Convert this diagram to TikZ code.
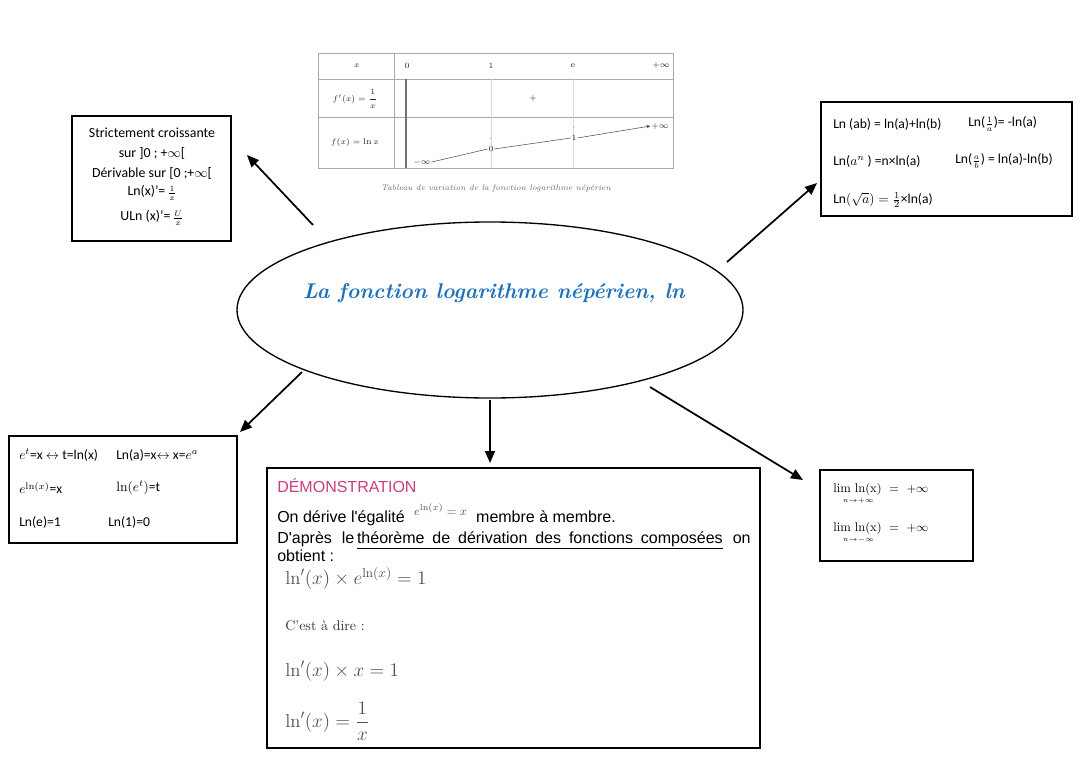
\documentclass[tikz,border=0pt]{standalone}
\usepackage{amsmath}
\usepackage{fontspec}
\usetikzlibrary{shapes.geometric,arrows.meta}
\newfontfamily\carlito{Carlito}
\newfontfamily\arialf{Liberation Sans}
\definecolor{titleblue}{RGB}{30,112,185}
\definecolor{demopink}{RGB}{205,60,130}
\definecolor{mathgray}{RGB}{80,80,80}
\definecolor{tabgray}{RGB}{170,170,170}
\newcommand{\smfrac}[2]{{\fontsize{8}{9}\selectfont$\frac{#1}{#2}$}}
\newcommand{\limsub}[1]{$\mathrm{lim}$\rlap{\hspace*{-6pt}\raisebox{-8pt}{\fontsize{7}{8}\selectfont$\scriptstyle #1$}}}
\begin{document}
\begin{tikzpicture}[x=0.75pt,y=-0.75pt,
  box/.style={draw=black,line width=1.3pt,fill=white,inner sep=0pt},
  conn/.style={line width=1.3pt,-{Triangle[length=9pt,width=7.5pt]}},
  cal/.style={font=\carlito\fontsize{10.4}{12}\selectfont,inner sep=0pt},
  calsm/.style={font=\carlito\fontsize{10.2}{12}\selectfont,inner sep=0pt},
  demo/.style={font=\arialf\fontsize{12}{14}\selectfont,inner sep=0pt},
  dmath/.style={font=\fontsize{14}{16}\selectfont,text=mathgray,inner sep=0pt},
  tab/.style={font=\fontsize{6.3}{7}\selectfont,inner sep=0.5pt,text=black!85},
  limtxt/.style={font=\fontsize{9.5}{11}\selectfont,inner sep=0pt,anchor=base west},
  tabline/.style={draw=tabgray,line width=0.5pt}]
\useasboundingbox (0,0) rectangle (1080,763);

% ---------- table of variation ----------
\draw[tabline] (318,53) rectangle (673,168);
\draw[tabline] (318,79) -- (673,79);
\draw[tabline] (318,117) -- (673,117);
\draw[tabline] (394,53) -- (394,168);
\draw[black!55,line width=1.4pt] (406,79) -- (406,168);
\draw[black!15,line width=0.3pt] (491,79) -- (491,168);
\draw[black!15,line width=0.3pt] (573,79) -- (573,168);
\node[tab] (hx) at (357,66) {$x$};
\node[tab] (h0) at (407,66) {$0$};
\node[tab] (h1) at (491,66) {$1$};
\node[tab] (he) at (573,66) {$\mathrm{e}$};
\node[tab] (hinf) at (661,66) {$+\infty$};
\node[tab] (fp) at (355,99) {$f'(x)=\dfrac{1}{x}$};
\node[tab] (plus) at (533,99) {$+$};
\node[tab] (fx) at (355,142) {$f(x)=\ln x$};
\node[tab] (minf) at (422,162) {$-\infty$};
\node[tab] (zero) at (491,149) {$0$};
\node[tab] (one) at (574,138) {$1$};
\node[tab] (pinf) at (660,126) {$+\infty$};
\node[tab,font=\fontsize{4}{4}\selectfont] (d0) at (491,139) {$\cdot$};
\node[tab,font=\fontsize{4}{4}\selectfont] (d1) at (574,128) {$\cdot$};
\draw[black!70,line width=0.4pt] (minf.east) -- (zero.west);
\draw[black!70,line width=0.4pt] (zero.east) -- (one.west);
\draw[black!70,line width=0.4pt,-{Stealth[length=3pt,width=2.5pt]}] (one.east) -- (pinf.west);
\node[font=\fontsize{6}{7}\selectfont\itshape,text=black!60,inner sep=0pt] (cap) at (496,188)
  {Tableau de variation de la fonction logarithme népérien};

% ---------- central ellipse ----------
\node[draw=black,line width=1pt,ellipse,minimum width=379.5pt,minimum height=132pt,inner sep=0pt] (main) at (490,310) {};
\node[text=titleblue,font=\fontsize{16}{19}\selectfont\bfseries\itshape,inner sep=0pt] (title) at (494,293)
  {La fonction logarithme népérien, ln};

% ---------- left top box ----------
\node[box,minimum width=119.25pt,minimum height=93.75pt] (lt) at (151.5,178.5) {};
\node[cal] (lt1) at (152,133) {Strictement croissante};
\node[cal] (lt2) at (152,153) {sur ]0 ; +$\infty$[};
\node[cal] (lt3) at (152,173) {Dérivable sur [0 ;+$\infty$[};
\node[cal] (lt4) at (152,193) {Ln(x)’=\,\smfrac{1}{x}};
\node[cal] (lt5) at (152,218) {ULn (x)’=\,\smfrac{U}{x}};

% ---------- right top box ----------
\node[box,minimum width=188.25pt,minimum height=85.5pt] (rt) at (946.5,159) {};
\node[calsm,anchor=west] (rt1) at (833,124) {Ln (ab) = ln(a)+ln(b)};
\node[calsm,anchor=west] (rt2) at (968,124) {Ln(\smfrac{1}{a})= -ln(a)};
\node[calsm,anchor=west] (rt3) at (833,161) {Ln($a^n$ ) =n×ln(a)};
\node[calsm,anchor=west] (rt4) at (955,161) {Ln(\smfrac{a}{b}) = ln(a)-ln(b)};
\node[calsm,anchor=west] (rt5) at (833,200) {Ln$\left(\sqrt{a}\right)=\frac{1}{2}$×ln(a)};

% ---------- left bottom box ----------
\node[box,minimum width=171pt,minimum height=80.25pt] (lb) at (123,489.5) {};
\node[calsm,anchor=west] (lb1) at (19,455) {$e^t$=x $\leftrightarrow$ t=ln(x)};
\node[calsm,anchor=west] (lb2) at (116,455) {Ln(a)=x$\leftrightarrow$ x=$e^a$};
\node[calsm,anchor=west] (lb3) at (19,488) {$e^{\ln(x)}$=x};
\node[calsm,anchor=west] (lb4) at (116,488) {$\ln(e^t)$=t};
\node[calsm,anchor=west] (lb5) at (19,522) {Ln(e)=1};
\node[calsm,anchor=west] (lb6) at (108,522) {Ln(1)=0};

% ---------- right bottom box ----------
\node[box,minimum width=114.75pt,minimum height=68.25pt] (rb) at (896.5,515.5) {};
\node[limtxt] (rb1) at (833,492)
  {\limsub{n\to+\infty}\hspace{3pt}$\ln(\mathrm{x})\ =\ +\infty$};
\node[limtxt] (rb2) at (833,531)
  {\limsub{n\to-\infty}\hspace{3pt}$\ln(\mathrm{x})\ =\ +\infty$};

% ---------- demonstration box ----------
\node[box,minimum width=369.75pt,minimum height=210pt] (demo) at (513.5,608) {};
\node[demo,text=demopink,anchor=base west] (d1) at (277,492) {DÉMONSTRATION};
\node[demo,anchor=base west] (d2) at (277,522) {On dérive l'égalité\hspace{7pt}\raisebox{5pt}{\color{mathgray}\fontsize{9.5}{10}\selectfont$e^{\ln(x)}=x$}\hspace{7pt}membre à membre.};
\node[demo,anchor=base west] (d3) at (277,543) {\spaceskip=5.9pt plus 4pt\makebox[355pt][s]{D'après le\,\underline{théorème de dérivation des fonctions composées} on}};
\node[demo,anchor=base west] (d4) at (277,561) {obtient :};
\node[dmath,anchor=base west] (d5) at (285,584) {$\ln'(x)\times e^{\ln(x)}=1$};
\node[font=\fontsize{10.5}{12}\selectfont,text=black!80,inner sep=0pt,anchor=base west] (d6) at (285,630) {C'est à dire :};
\node[dmath,anchor=base west] (d7) at (285,676) {$\ln'(x)\times x=1$};
\node[dmath,anchor=base west] (d8) at (285,727) {$\ln'(x)=\dfrac{1}{x}$};

% ---------- connectors ----------
\coordinate (t1) at (313,225); \coordinate (p1) at (247,155);
\coordinate (t2) at (727,262); \coordinate (p2) at (817,183);
\coordinate (t3) at (302,372); \coordinate (p3) at (240,432);
\coordinate (t4) at (490,400); \coordinate (p4) at (490,463);
\coordinate (t5) at (650,387); \coordinate (p5) at (803,480);
\draw[conn] (t1) -- (p1);
\draw[conn] (t2) -- (p2);
\draw[conn] (t3) -- (p3);
\draw[conn] (t4) -- (p4);
\draw[conn] (t5) -- (p5);
\end{tikzpicture}
\end{document}
